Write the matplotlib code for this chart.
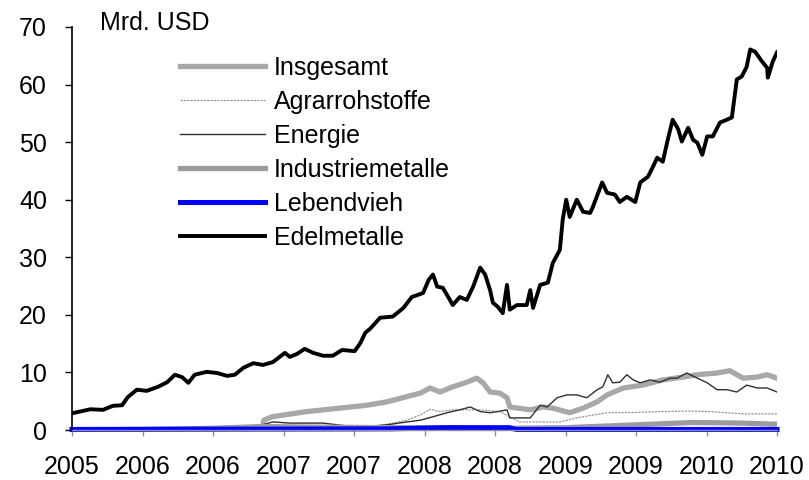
import matplotlib
matplotlib.use("Agg")
import matplotlib.pyplot as plt

plt.rcParams['font.family'] = ['Liberation Sans', 'DejaVu Sans']

# x positions in half-year steps from the first tick (0 .. 10)
tick_labels = ["2005", "2006", "2006", "2007", "2007", "2008", "2008",
               "2009", "2009", "2010", "2010"]
y_ticks = [0, 10, 20, 30, 40, 50, 60, 70]

edel_t = [0.0, 0.26, 0.44, 0.58, 0.71, 0.79, 0.92, 1.06, 1.22, 1.35, 1.46, 1.56,
          1.65, 1.74, 1.91, 2.06, 2.20, 2.31, 2.43, 2.57, 2.71, 2.85, 3.02, 3.09,
          3.19, 3.30, 3.42, 3.56, 3.70, 3.83, 4.01, 4.09, 4.16, 4.23, 4.37, 4.55,
          4.70, 4.82, 4.98, 5.06, 5.12, 5.18, 5.26, 5.36, 5.40, 5.50, 5.60, 5.69,
          5.79, 5.86, 5.93, 5.97, 6.04, 6.11, 6.17, 6.21, 6.31, 6.45, 6.50, 6.54,
          6.64, 6.75, 6.82, 6.92, 6.96, 7.01, 7.06, 7.16, 7.25, 7.35, 7.39, 7.52,
          7.59, 7.70, 7.77, 7.87, 7.99, 8.06, 8.17, 8.24, 8.30, 8.38, 8.45, 8.52,
          8.60, 8.65, 8.74, 8.81, 8.87, 8.94, 9.01, 9.09, 9.19, 9.29, 9.36, 9.43,
          9.50, 9.57, 9.62, 9.69, 9.77, 9.86, 9.87, 9.94, 10.0]
edel_v = [2.9, 3.6, 3.5, 4.2, 4.3, 5.7, 7.0, 6.8, 7.5, 8.3, 9.6, 9.2,
          8.2, 9.6, 10.1, 9.9, 9.4, 9.6, 10.8, 11.6, 11.3, 11.8, 13.4, 12.7,
          13.2, 14.1, 13.4, 12.9, 12.9, 13.9, 13.7, 15.1, 16.9, 17.6, 19.5, 19.7,
          21.2, 23.1, 23.8, 26.1, 27.0, 24.9, 24.7, 22.6, 21.7, 23.1, 22.6, 24.9,
          28.2, 27.0, 24.3, 22.1, 21.4, 20.3, 25.2, 20.9, 21.7, 21.7, 24.3, 21.2,
          25.2, 25.6, 29.0, 31.3, 36.5, 40.0, 37.0, 40.0, 37.9, 37.7, 38.8, 43.0,
          41.2, 40.9, 39.6, 40.5, 39.6, 43.0, 44.0, 45.7, 47.3, 46.6, 50.4, 53.9,
          52.2, 50.1, 52.5, 50.4, 49.9, 47.8, 51.0, 51.0, 53.4, 53.9, 54.3, 60.9,
          61.4, 63.1, 66.1, 65.7, 64.3, 62.9, 61.2, 64.0, 65.6]

ges_t = [2.70, 2.72, 2.84, 3.33, 3.80, 4.18, 4.47, 4.75, 4.94, 5.08, 5.22, 5.40,
         5.60, 5.74, 5.83, 5.93, 6.07, 6.17, 6.21, 6.50, 6.68, 6.82, 7.06, 7.25,
         7.45, 7.59, 7.82, 8.10, 8.38, 8.67, 8.87, 9.15, 9.33, 9.52, 9.72, 9.86, 10.0]
ges_v = [0.3, 1.7, 2.3, 3.2, 3.8, 4.3, 4.9, 5.8, 6.4, 7.3, 6.6, 7.5,
         8.3, 9.0, 8.2, 6.6, 6.4, 5.6, 4.0, 3.5, 4.0, 3.8, 3.0, 3.8,
         4.9, 6.1, 7.3, 7.8, 8.7, 9.2, 9.6, 9.9, 10.3, 9.0, 9.2, 9.6, 9.0]

energ_t = [0.0, 1.53, 2.38, 2.70, 2.85, 3.09, 3.56, 4.04, 4.47, 4.75, 4.94, 5.12,
           5.32, 5.50, 5.65, 5.79, 5.93, 6.04, 6.17, 6.21, 6.50, 6.64, 6.74, 6.88,
           7.02, 7.16, 7.30, 7.45, 7.53, 7.60, 7.67, 7.77, 7.87, 7.96, 8.06, 8.20,
           8.34, 8.48, 8.58, 8.72, 8.87, 9.01, 9.15, 9.29, 9.43, 9.57, 9.72, 9.86, 10.0]
energ_v = [0.0, 0.1, 0.5, 0.9, 1.4, 1.2, 1.2, 0.5, 0.9, 1.4, 1.7, 2.3,
           3.0, 3.5, 4.0, 3.2, 3.0, 3.2, 3.5, 2.1, 2.1, 4.3, 4.0, 5.6,
           6.1, 6.1, 5.6, 7.0, 7.5, 9.6, 8.2, 8.3, 9.6, 8.7, 8.2, 8.7,
           8.3, 9.0, 9.0, 9.9, 9.0, 8.2, 7.0, 7.0, 6.6, 7.8, 7.3, 7.3, 6.6]

agrar_t = [0.0, 1.5, 2.7, 3.5, 4.3, 4.75, 4.94, 5.08, 5.22, 5.40, 5.60, 5.79,
           6.07, 6.21, 6.35, 6.92, 7.16, 7.39, 7.59, 7.87, 8.34, 8.81, 9.05, 9.52, 10.0]
agrar_v = [0.0, 0.1, 0.3, 0.4, 0.6, 1.7, 2.6, 3.6, 3.2, 3.5, 3.5, 3.5,
           3.2, 2.3, 1.4, 1.4, 2.1, 2.6, 3.0, 3.0, 3.2, 3.3, 3.2, 2.8, 2.8]

indu_t = [0.0, 1.0, 2.0, 2.7, 3.5, 4.5, 5.5, 6.2, 7.0, 8.0, 8.8, 9.5, 10.0]
indu_v = [0.0, 0.1, 0.3, 0.6, 0.5, 0.4, 0.4, 0.3, 0.4, 0.9, 1.3, 1.2, 1.0]

vieh_t = [0.0, 4.5, 5.3, 6.2, 6.3, 10.0]
vieh_v = [0.1, 0.2, 0.4, 0.4, 0.1, 0.1]

fig = plt.figure(figsize=(8.09, 4.80), dpi=100)
ax = fig.add_axes([72 / 809, 1 - 430 / 480, 705 / 809, 403 / 480])

ax.plot(ges_t, ges_v, color="#a8a8a8", lw=3.8, label="Insgesamt", solid_joinstyle="round")
ax.plot(agrar_t, agrar_v, color="#8a8a8a", lw=0.8, ls=(0, (2, 1)), label="Agrarrohstoffe")
ax.plot(energ_t, energ_v, color="#303030", lw=1.0, label="Energie")
ax.plot(indu_t, indu_v, color="#9c9c9c", lw=3.8, label="Industriemetalle")
ax.plot(vieh_t, vieh_v, color="#0000ff", lw=3.6, label="Lebendvieh", clip_on=False)
ax.plot(edel_t, edel_v, color="#000000", lw=2.8, label="Edelmetalle")

ax.set_xlim(0, 10)
ax.set_ylim(0, 70)
ax.set_xticks(range(len(tick_labels)))
ax.set_xticklabels(tick_labels)
ax.set_yticks(y_ticks)

for s in ["top", "right"]:
    ax.spines[s].set_visible(False)
ax.spines["left"].set_linewidth(1.2)
ax.spines["bottom"].set_color("#909090")
ax.spines["bottom"].set_linewidth(1.0)
ax.tick_params(axis="y", direction="out", length=5, width=1, pad=13, labelsize=18)
ax.tick_params(axis="x", direction="out", length=4, width=1, color="#909090",
               pad=14, labelsize=18)

leg = ax.legend(loc="upper left", bbox_to_anchor=((180 - 72) / 705, (430 - 56) / 403),
                frameon=False, fontsize=18, borderpad=0, borderaxespad=0,
                handlelength=3.4, handletextpad=0.36, labelspacing=0.40)

fig.text(100 / 809, 1 - 23 / 480, "Mrd. USD", fontsize=18, va="center", ha="left")

fig.savefig("out.png", dpi=100)
